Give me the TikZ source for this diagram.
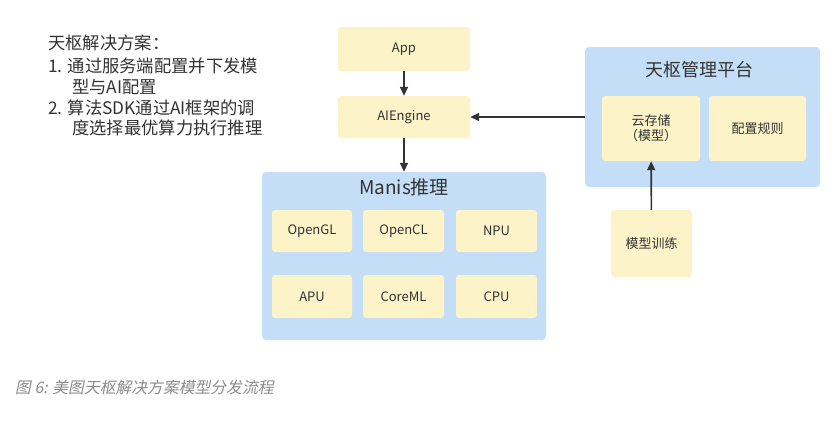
\documentclass[tikz,border=0pt]{standalone}
\usepackage{fontspec}
\setmainfont{Noto Sans CJK SC}
\newfontfamily\capfont[FakeSlant=0.2]{Noto Sans CJK SC}
\usetikzlibrary{arrows.meta}
\definecolor{boxyellow}{HTML}{FCF3C8}
\definecolor{boxblue}{HTML}{C3DEF6}
\definecolor{inkgrey}{HTML}{333333}
\tikzset{
  unit/.style={fill=boxyellow, rounded corners=3pt, inner sep=0pt, align=center,
    font=\fontsize{13}{15}\selectfont, text=inkgrey},
  group/.style={fill=boxblue, rounded corners=4pt, inner sep=0pt},
  flow/.style={draw=inkgrey, line width=1.6pt, -{Triangle[length=9pt,width=8pt]}},
  note/.style={anchor=base west, inner sep=0pt, text=inkgrey, font=\fontsize{17.3}{20}\selectfont}
}
\begin{document}
\begin{tikzpicture}[x=1pt,y=-1pt]
\useasboundingbox[fill=white] (0,0) rectangle (838,431);
% notes
\node[note] (n1) at (48,49.5) {天枢解决方案：};
\node[note] (n2) at (48,72.5) {1. 通过服务端配置并下发模};
\node[note] (n3) at (72,93.5) {型与AI配置};
\node[note] (n4) at (48,114.5) {2. 算法SDK通过AI框架的调};
\node[note] (n5) at (72,134.5) {度选择最优算力执行推理};
% client side
\node[unit, minimum width=132pt, minimum height=44pt] (app) at (404,49) {App};
\node[unit, minimum width=132pt, minimum height=42pt] (engine) at (404,117) {AIEngine};
\node[group, minimum width=284pt, minimum height=168pt] (manis) at (404,256) {};
\node[font=\fontsize{19}{22}\selectfont, text=inkgrey] (manistitle) at (404,187) {Manis推理};
\node[unit, minimum width=80pt, minimum height=42pt] (opengl) at (312,231) {OpenGL};
\node[unit, minimum width=81pt, minimum height=42pt] (opencl) at (403.5,231) {OpenCL};
\node[unit, minimum width=81pt, minimum height=42pt] (npu) at (496.5,231) {NPU};
\node[unit, minimum width=80pt, minimum height=43pt] (apu) at (312,296.5) {APU};
\node[unit, minimum width=81pt, minimum height=43pt] (coreml) at (403.5,296.5) {CoreML};
\node[unit, minimum width=81pt, minimum height=43pt] (cpu) at (496.5,296.5) {CPU};
% server side
\node[group, minimum width=235pt, minimum height=140pt] (tianshu) at (702.5,117) {};
\node[font=\fontsize{18}{21}\selectfont, text=inkgrey] (tianshutitle) at (699,70) {天枢管理平台};
\node[unit, minimum width=98pt, minimum height=65pt] (cloud) at (651,128.5) {云存储\\（模型）};
\node[unit, minimum width=97pt, minimum height=65pt] (rules) at (757.5,128.5) {配置规则};
\node[unit, minimum width=81pt, minimum height=67pt] (train) at (651.5,243.5) {模型训练};
% arrows
\draw[flow] (app) -- (engine);
\draw[flow] (engine) -- (manis);
\draw[flow] (tianshu) -- (engine);
\draw[flow] (train) -- (cloud);
% caption
\node[anchor=base west, inner sep=0pt, text=black!45, font=\capfont\fontsize{15.8}{18}\selectfont] (caption) at (15,393.5) {图 6: 美图天枢解决方案模型分发流程};
\end{tikzpicture}
\end{document}
